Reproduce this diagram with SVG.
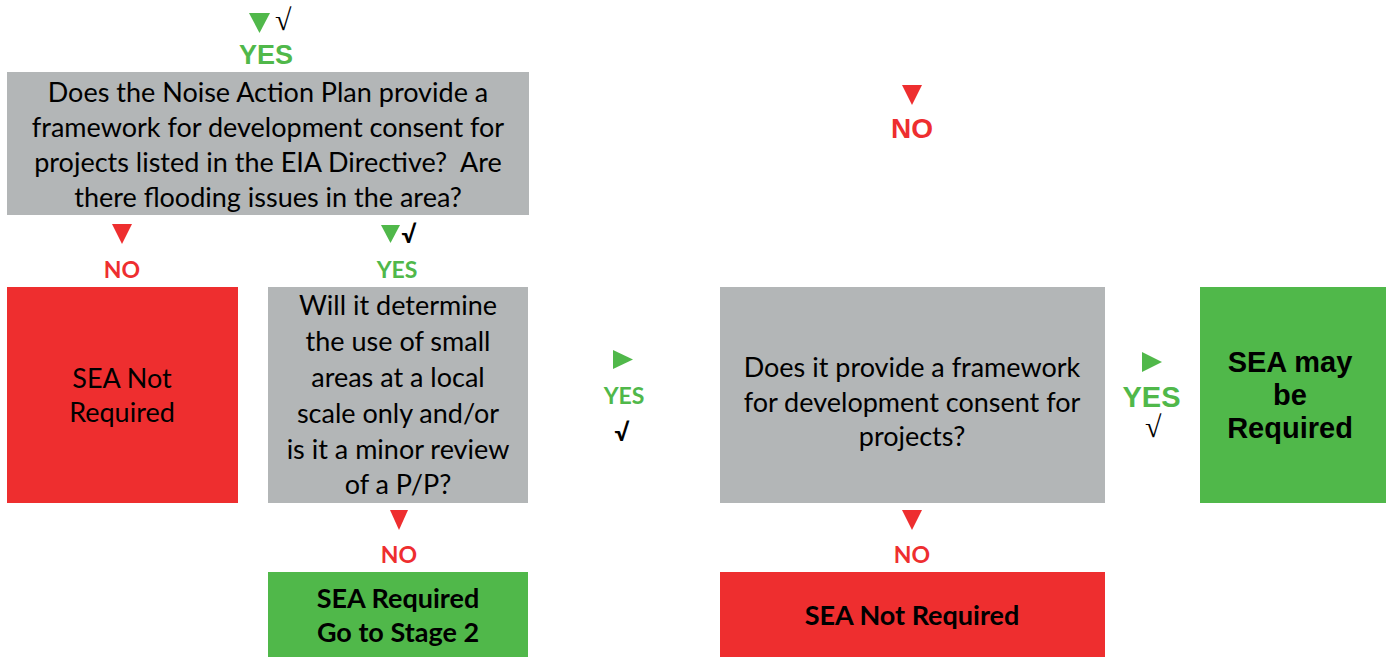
<svg xmlns="http://www.w3.org/2000/svg" width="1386" height="657" viewBox="0 0 1386 657">
<style>
.gray{fill:#B3B6B7}
.red{fill:#EE2E2F}
.green{fill:#50B84A}
.body{font-family:Lato,"Open Sans","Liberation Sans",sans-serif;font-size:27px;fill:#000;text-anchor:middle}
.bold{font-weight:bold}
.arialb{font-family:"Liberation Sans",Arial,sans-serif;font-weight:bold;text-anchor:middle}
.lbl{font-family:Lato,"Open Sans","Liberation Sans",sans-serif;font-weight:bold;font-size:23px;text-anchor:middle}
.gtxt{fill:#50B84A}
.rtxt{fill:#EE2E2F}
.tick{font-family:"Liberation Serif","Times New Roman",serif;font-size:30px;fill:#000}
.tickb{font-family:Lato,"Liberation Sans",sans-serif;font-weight:bold;font-size:24px;fill:#000;text-anchor:middle}
</style>
<rect width="1386" height="657" fill="#fff"/>
<g id="q1">
<rect class="gray" x="7" y="72" width="522" height="143"/>
<text class="body" x="268" y="102">Does the Noise Action Plan provide a</text>
<text class="body" x="268" y="137">framework for development consent for</text>
<text class="body" x="268" y="172" xml:space="preserve">projects listed in the EIA Directive?  Are</text>
<text class="body" x="268" y="207">there flooding issues in the area?</text>
</g>
<g id="notreq1">
<rect class="red" x="7" y="287" width="231" height="216"/>
<text class="body" x="122" y="388" font-size="26">SEA Not</text>
<text class="body" x="122" y="422" font-size="26">Required</text>
</g>
<g id="q2">
<rect class="gray" x="268" y="287" width="260" height="216"/>
<text class="body" x="398" y="315">Will it determine</text>
<text class="body" x="398" y="351">the use of small</text>
<text class="body" x="398" y="387">areas at a local</text>
<text class="body" x="398" y="423">scale only and/or</text>
<text class="body" x="398" y="459">is it a minor review</text>
<text class="body" x="398" y="494">of a P/P?</text>
</g>
<g id="req">
<rect class="green" x="268" y="572" width="260" height="85"/>
<text class="body bold" x="398" y="608">SEA Required</text>
<text class="body bold" x="398" y="642">Go to Stage 2</text>
</g>
<g id="q3">
<rect class="gray" x="720" y="287" width="385" height="216"/>
<text class="body" x="912" y="377">Does it provide a framework</text>
<text class="body" x="912" y="412">for development consent for</text>
<text class="body" x="912" y="446">projects?</text>
</g>
<g id="notreq2">
<rect class="red" x="720" y="572" width="385" height="85"/>
<text class="body bold" x="912" y="625">SEA Not Required</text>
</g>
<g id="mayreq">
<rect class="green" x="1200" y="287" width="186" height="216"/>
<text class="arialb" x="1290" y="372" font-size="29">SEA may</text>
<text class="arialb" x="1290" y="405" font-size="29">be</text>
<text class="arialb" x="1290" y="438" font-size="29">Required</text>
</g>
<g id="connectors">
<polygon class="green" points="249,13 270,13 259.5,33"/>
<text class="tick" x="275" y="30">√</text>
<text class="arialb gtxt" x="266" y="64" font-size="27">YES</text>

<polygon class="red" points="112,224 132,224 122,244"/>
<text class="lbl rtxt" x="122" y="278">NO</text>

<polygon class="green" points="381,225 400,225 390.5,243"/>
<text class="tickb" x="409" y="243">√</text>
<text class="lbl gtxt" x="397" y="278">YES</text>

<polygon class="green" points="613,350 613,369 633,359.5"/>
<text class="lbl gtxt" x="624" y="404">YES</text>
<text class="tickb" x="622" y="441">√</text>

<polygon class="green" points="1142,352 1142,372 1162,362"/>
<text class="arialb gtxt" x="1151.5" y="407" font-size="29">YES</text>
<text class="tick" x="1145" y="437">√</text>

<polygon class="red" points="902,85 922,85 912,105"/>
<text class="arialb rtxt" x="912" y="138" font-size="28">NO</text>

<polygon class="red" points="390,510 408,510 399,530"/>
<text class="lbl rtxt" x="399" y="563">NO</text>

<polygon class="red" points="902,510 922,510 912,530"/>
<text class="lbl rtxt" x="912" y="563">NO</text>
</g>
</svg>
